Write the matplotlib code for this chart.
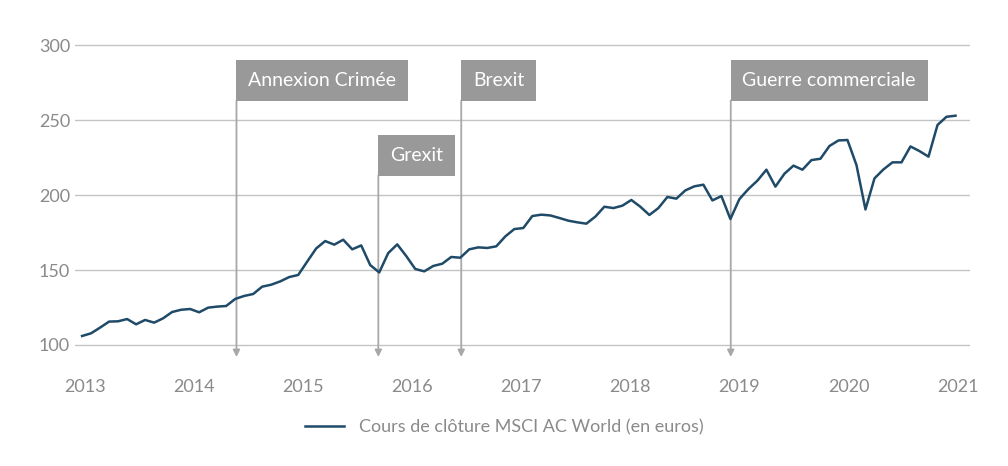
import numpy as np
import matplotlib.pyplot as plt

# =========================
# Data (monthly closes)
# =========================
msci_values = [
    106, 107.8, 111.6, 115.6, 115.8, 117.3, 113.8, 116.7, 114.9, 117.8, 122, 123.5,
    124, 121.8, 124.9, 125.6, 126, 130.7, 132.7, 134, 138.9, 140.2, 142.4, 145.3,
    146.7, 155.6, 164.4, 169.3, 166.9, 170.2, 163.8, 166.4, 153.3, 148.4, 161.3, 167.1,
    159.3, 150.7, 149.1, 152.7, 154.2, 158.7, 158.2, 163.8, 165.1, 164.7, 165.8, 172.4,
    177.3, 178, 186, 186.9, 186.4, 184.7, 182.9, 181.8, 180.9, 185.6, 192.2, 191.3,
    192.9, 196.7, 192.2, 186.7, 191.3, 198.7, 197.6, 203.1, 205.8, 206.9, 196.4, 199.3,
    184, 197.3, 204, 209.6, 216.9, 205.6, 214.2, 219.6, 216.9, 223.3, 224.2, 232.7,
    236.4, 236.7, 220, 190.4, 211.1, 217.1, 221.8, 221.8, 232.4, 229.3, 225.6, 246.7,
    252.2, 252.9,
]
dates = np.linspace(2012.975, 2020.98, len(msci_values))

event_labels = ["Annexion Crimée", "Grexit", "Brexit", "Guerre commerciale"]
event_dates = [2014.39, 2015.69, 2016.45, 2018.92]
event_box_y = [263, 213, 263, 263]

y_ticks = [100, 150, 200, 250, 300]
x_ticks = list(range(2013, 2022))

# =========================
# Plot
# =========================
plt.rcParams["font.family"] = "Lato"
fig = plt.figure(figsize=(10.08, 4.66), dpi=100)
ax = fig.add_axes([0.0744, 0.2275, 0.8876, 0.7295])

for y in y_ticks:
    ax.axhline(y, color="#c4c4c4", linewidth=1, zorder=0)

fs = 14
pad = 0.6 * fs
for label, x, yb in zip(event_labels, event_dates, event_box_y):
    ax.annotate("", xy=(x, 92), xytext=(x, yb),
                arrowprops=dict(arrowstyle="-|>,head_width=0.2,head_length=0.4",
                                color="#a8a8a8", lw=1.3, shrinkA=0, shrinkB=0),
                zorder=1)
    ax.annotate(label, xy=(x, yb), xytext=(pad, pad), textcoords="offset points",
                fontsize=fs, color="white", ha="left", va="bottom",
                bbox=dict(boxstyle="square,pad=0.6", fc="#999999", ec="none"),
                zorder=3)

ax.plot(dates, msci_values, color="#1f4a68", linewidth=1.8, zorder=2,
        label="Cours de clôture MSCI AC World (en euros)")

ax.set_xlim(2012.91, 2021.11)
ax.set_ylim(90, 316.7)
ax.set_yticks(y_ticks)
ax.set_xticks(x_ticks)
ax.tick_params(length=0, labelsize=13, labelcolor="#8a8a8a")
ax.tick_params(axis="x", pad=14)
for s in ax.spines.values():
    s.set_visible(False)

fig.legend(loc="center", bbox_to_anchor=(0.5, 0.083), frameon=False,
           fontsize=13, labelcolor="#8a8a8a", handlelength=2.2)

plt.savefig("out.png", dpi=100)
